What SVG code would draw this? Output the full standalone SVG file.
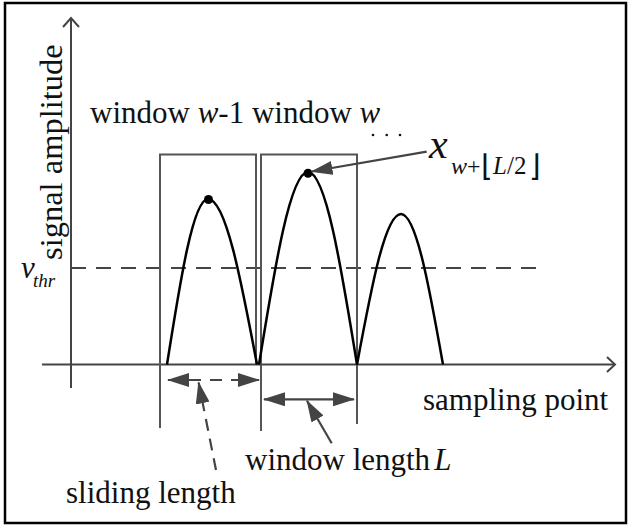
<svg xmlns="http://www.w3.org/2000/svg" width="630" height="526" viewBox="0 0 630 526">
<style>
.ax{stroke:#444;stroke-width:2;fill:none}
.win{stroke:#555;stroke-width:2;fill:none}
.curve{stroke:#000;stroke-width:2.5;fill:none}
.arr{stroke:#444;stroke-width:2.2;fill:none}
.dash{stroke-dasharray:12 9}
text{font-family:"Liberation Serif","Times New Roman",serif;fill:#111}
.it{font-style:italic}
</style>
<defs>
<marker id="ah" markerUnits="userSpaceOnUse" viewBox="0 -7 22 14" refX="21" refY="0" markerWidth="22" markerHeight="14" orient="auto-start-reverse">
<path d="M0,-7 L22,0 L0,7 z" fill="#444"/>
</marker>
<marker id="ah2" markerUnits="userSpaceOnUse" viewBox="0 -7 22 14" refX="21" refY="0" markerWidth="22" markerHeight="14" orient="auto">
<path d="M0,-7 L22,0 L0,7 z" fill="#444"/>
</marker>
</defs>
<rect x="5" y="3" width="621" height="520" fill="#fff" stroke="#000" stroke-width="2.5"/>

<g id="axes">
<line class="ax" x1="71" y1="18" x2="71" y2="388"/>
<polyline class="ax" points="63,27 71,18 79,27"/>
<line class="ax" x1="42" y1="364.5" x2="615" y2="364.5"/>
<polyline class="ax" points="607,357 615,364.5 607,372"/>
</g>

<g id="threshold">
<line x1="71" y1="268" x2="544" y2="268" stroke="#444" stroke-width="2" stroke-dasharray="15 10"/>
</g>

<g id="window-w-1">
<polyline class="win" points="160,428 160,154.5 256,154.5 256,364.5"/>
</g>
<g id="window-w">
<polyline class="win" points="261,431 261,154.5 357,154.5 357,424"/>
</g>

<g id="signal">
<path class="curve" d="M167,364.5 C180.4,279.5 193.2,199 208,199 C225.7,199 241,279.5 257,364.5"/>
<path class="curve" d="M259,364.5 C275,265.6 290.3,172 308,172 C325.7,172 341,265.6 357,364.5"/>
<path class="curve" d="M357,364.5 C371.4,287.2 385.1,214 401,214 C416.2,214 429.3,287.2 443,364.5"/>
<circle cx="208.5" cy="199.5" r="4.5" fill="#000"/>
<circle cx="308" cy="173.3" r="4.5" fill="#000"/>
</g>

<g id="connectors">
<line class="arr dash" x1="168" y1="380" x2="259" y2="380" marker-start="url(#ah)" marker-end="url(#ah)" stroke-dasharray="9 8"/>
<line class="arr" x1="264" y1="399.3" x2="354" y2="399.3" marker-start="url(#ah)" marker-end="url(#ah)"/>
<line class="arr" x1="216" y1="470" x2="198.6" y2="382.5" stroke-dasharray="12 8" marker-end="url(#ah2)"/>
<line class="arr" x1="331.7" y1="443.3" x2="307" y2="400.8" marker-end="url(#ah2)"/>
<line class="arr" x1="426.7" y1="151.7" x2="311.5" y2="171.5" marker-end="url(#ah2)"/>
</g>

<g id="labels">
<text x="90" y="123.3" font-size="31">window <tspan class="it">w</tspan>-1 window <tspan class="it">w</tspan></text>
<circle cx="373" cy="135" r="1.3" fill="#111"/>
<circle cx="386.7" cy="135" r="1.3" fill="#111"/>
<circle cx="400" cy="135" r="1.3" fill="#111"/>
<text x="429" y="158.3" font-size="42" class="it">x</text>
<text x="451" y="173.5" font-size="24"><tspan class="it">w</tspan>+</text>
<text x="481" y="176" font-size="30">⌊</text>
<text x="493" y="173.5" font-size="25" class="it">L</text>
<text x="507" y="173.5" font-size="25">/2</text>
<text x="529" y="176" font-size="30">⌋</text>
<text x="21" y="278" font-size="31" class="it">v</text>
<text x="33" y="287" font-size="19" class="it">thr</text>
<text transform="translate(61.5,260) rotate(-90)" font-size="32.5">signal amplitude</text>
<text x="423" y="410" font-size="31">sampling point</text>
<text x="245" y="470" font-size="31">window length<tspan class="it" dx="4">L</tspan></text>
<text x="66" y="503" font-size="31">sliding length</text>
</g>
</svg>
